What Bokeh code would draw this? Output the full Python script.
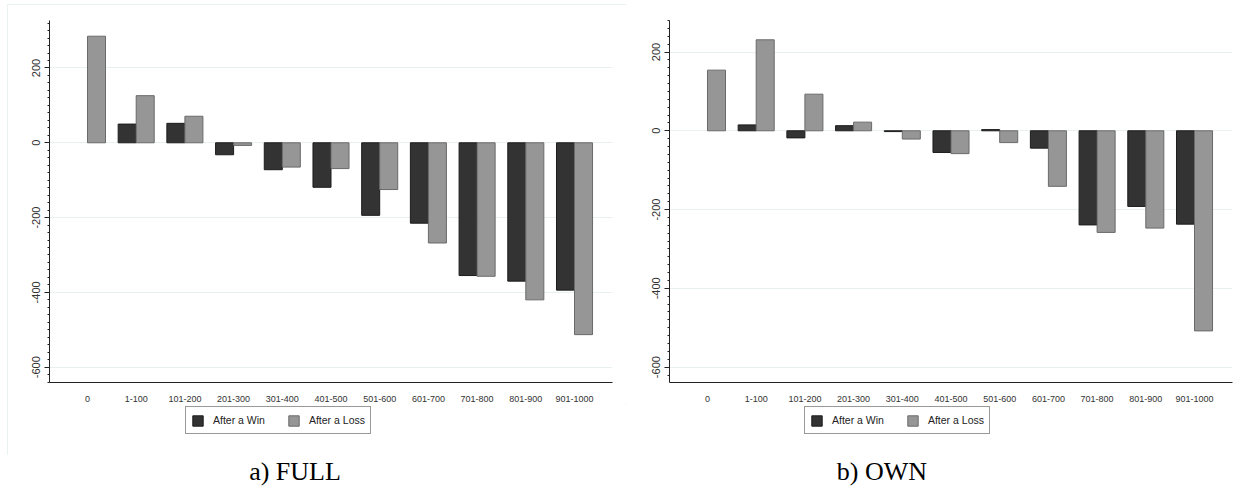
from bokeh.plotting import figure
from bokeh.models import (FactorRange, Range1d, FixedTicker, Legend, LegendItem,
                          ColumnDataSource, Div)
from bokeh.transform import dodge
from bokeh.layouts import column, row
from bokeh.embed import file_html
from bokeh.resources import INLINE

categories = ["0", "1-100", "101-200", "201-300", "301-400", "401-500",
              "501-600", "601-700", "701-800", "801-900", "901-1000"]

full_win = [float("nan"), 50, 52, -32, -72, -119, -194, -215, -355, -370, -394]
full_loss = [285, 126, 71, -7, -65, -69, -125, -268, -357, -420, -513]

own_win = [float("nan"), 15, -18, 13, -2, -55, 3, -44, -239, -192, -237]
own_loss = [154, 231, 93, 22, -21, -58, -30, -141, -258, -247, -508]

y_ticks = [-600, -400, -200, 0, 200]
y_tick_labels = ["-600", "-400", "-200", "0", "200"]
minor_ticks = list(range(-640, 340, 20))

series_labels = ["After a Win", "After a Loss"]
captions = ["a) FULL", "b) OWN"]

WIN_FILL, WIN_LINE = "#333333", "#1c1c1c"
LOSS_FILL, LOSS_LINE = "#969696", "#6a6a6a"


def make_chart(win, loss, y_start, y_end, width, border_left, border_right,
               border_top):
    src = ColumnDataSource(dict(cat=categories, win=win, loss=loss))
    xr = FactorRange(*categories, range_padding=0.28,
                     range_padding_units="absolute")
    p = figure(x_range=xr, y_range=Range1d(y_start, y_end),
               width=width, height=404 - (20 - border_top), output_backend="svg",
               toolbar_location=None, min_border_left=border_left,
               min_border_right=border_right, min_border_top=border_top,
               min_border_bottom=20)
    p.outline_line_color = None
    p.background_fill_color = "white"
    p.border_fill_color = "white"

    p.vbar(x=dodge("cat", -0.185, range=p.x_range), top="win",
           bottom=0, width=0.37, source=src, fill_color=WIN_FILL,
           line_color=WIN_LINE, line_width=1)
    p.vbar(x=dodge("cat", 0.185, range=p.x_range), top="loss",
           bottom=0, width=0.37, source=src, fill_color=LOSS_FILL,
           line_color=LOSS_LINE, line_width=1)

    p.xgrid.grid_line_color = None
    p.ygrid.grid_line_color = "#e8f0f2"
    p.ygrid.grid_line_width = 1

    ya = p.yaxis[0]
    ya.ticker = FixedTicker(ticks=y_ticks, minor_ticks=minor_ticks)
    ya.major_label_overrides = {t: l for t, l in zip(y_ticks, y_tick_labels)}
    ya.major_label_orientation = "vertical"
    ya.major_label_text_font = "Liberation Sans"
    ya.major_label_text_font_size = "11px"
    ya.major_label_text_color = "#333333"
    ya.major_label_standoff = 4
    ya.major_tick_out = 5
    ya.major_tick_in = 0
    ya.minor_tick_out = 2
    ya.minor_tick_in = 0
    ya.axis_line_color = "#222222"
    ya.major_tick_line_color = "#222222"
    ya.minor_tick_line_color = "#222222"

    xa = p.xaxis[0]
    xa.major_tick_line_color = None
    xa.minor_tick_line_color = None
    xa.axis_line_color = "#222222"
    xa.major_label_text_font = "Liberation Sans"
    xa.major_label_text_font_size = "9px"
    xa.major_label_text_color = "#333333"
    xa.major_label_standoff = 7
    return p


def make_legend_fig(width, legend_x):
    lf = figure(width=width, height=51, x_range=Range1d(0, 1),
                y_range=Range1d(0, 1), output_backend="svg",
                toolbar_location=None, x_axis_location=None,
                y_axis_location=None, min_border=0)
    lf.outline_line_color = None
    lf.grid.visible = False
    # a single NaN row: nothing is drawn, but the legend glyph is rendered
    empty = ColumnDataSource(dict(x=[float("nan")], top=[float("nan")]))
    r_win = lf.vbar(x="x", top="top", width=0.1, source=empty,
                    fill_color=WIN_FILL, line_color=WIN_LINE)
    r_loss = lf.vbar(x="x", top="top", width=0.1, source=empty,
                     fill_color=LOSS_FILL, line_color=LOSS_LINE)
    legend = Legend(items=[LegendItem(label=series_labels[0], renderers=[r_win]),
                           LegendItem(label=series_labels[1], renderers=[r_loss])],
                    orientation="horizontal", location=(legend_x, 21),
                    margin=0, padding=5, spacing=22,
                    glyph_width=13, glyph_height=13, label_height=16,
                    label_standoff=9, label_text_font="Liberation Sans",
                    label_text_font_size="10.5px", label_text_color="#222222",
                    border_line_color="#333333", border_line_width=1,
                    background_fill_color="white", background_fill_alpha=1)
    lf.add_layout(legend, "center")
    return lf


cap_style = {"font-family": "Liberation Serif", "font-size": "26px",
             "color": "black", "text-align": "center", "line-height": "24px"}

# left panel (FULL)
p1 = make_chart(full_win, full_loss, -641, 327, 619, 42, 14, 16)
l1 = make_legend_fig(619, 136)
panel1 = column(p1, l1, styles={"outline": "1px solid #e4eef0",
                                 "outline-offset": "-1px"})
d1 = Div(text=captions[0], width=566, height=30, styles=cap_style)
left = column(panel1, d1, margin=(4, 0, 0, 7))

# right panel (OWN)
p2 = make_chart(own_win, own_loss, -639, 280, 618, 43, 12, 20)
l2 = make_legend_fig(618, 135)
d2 = Div(text=captions[1], width=502, height=30, styles=cap_style)
right = column(p2, l2, d2)

layout = row(left, right)

open("out.html", "w").write(file_html(layout, INLINE))
